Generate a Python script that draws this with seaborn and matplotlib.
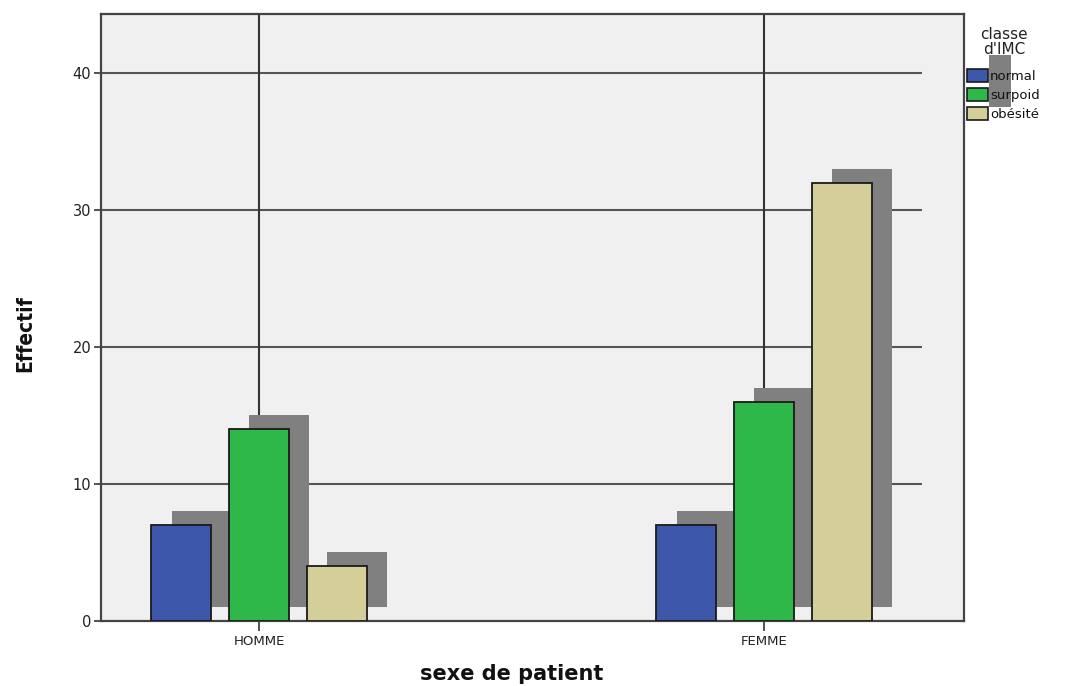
import numpy as np
import pandas as pd
import matplotlib
matplotlib.use("Agg")
import matplotlib.pyplot as plt
import seaborn as sns
from matplotlib.patches import Rectangle, Patch

# Counts per sex and BMI class
sexes = ["HOMME", "FEMME"]
classes = ["normal", "surpoid", "obésité"]
normal = [7, 7]
surpoid = [14, 16]
obesite = [4, 32]
colors = ["#3d58ab", "#2fb84a", "#d4cf98"]
yticks = [0, 10, 20, 30, 40]

df = pd.DataFrame({
    "sexe de patient": sexes * 3,
    "classe d'IMC": [c for c in classes for _ in sexes],
    "Effectif": normal + surpoid + obesite,
})

sns.set_style("white")
plt.rcParams["font.family"] = ["DejaVu Sans"]

fig = plt.figure(figsize=(10.75, 6.86), dpi=100)
ax = fig.add_axes([0.094, 0.0948, 0.8027, 0.8848])
ax.set_facecolor("#f0f0f0")

sns.barplot(
    data=df, x="sexe de patient", y="Effectif", hue="classe d'IMC",
    order=sexes, hue_order=classes, palette=colors, saturation=1,
    width=0.462, gap=0.23, edgecolor="#1a1a1a", linewidth=1.3,
    errorbar=None, legend=False, ax=ax,
)

# drop shadows: each bar shifted right and up by one unit
dx, dy = 0.04, 1.0
bars = list(ax.patches)
for p in bars:
    p.set_zorder(3)
    ax.add_patch(Rectangle((p.get_x() + dx, dy), p.get_width(), p.get_height(),
                           facecolor="#808080", edgecolor="none", zorder=2))

xmin, xmax = -0.313, 1.396
ymax = 44.3
ax.set_xlim(xmin, xmax)
ax.set_ylim(0, ymax)

# reference lines
ax.hlines(yticks[1:], xmin, 1 - xmin, color="#555555", lw=1.5, zorder=1)
ax.vlines([0, 1], 0, ymax, color="#333333", lw=1.5, zorder=1)

ax.set_yticks(yticks)
ax.set_xticks([0, 1])
ax.set_xticklabels(sexes)
for s in ax.spines.values():
    s.set_visible(True)
    s.set_color("#444444")
    s.set_linewidth(1.6)
ax.tick_params(axis="y", length=5, width=1.3, color="#444444",
               labelsize=10.5, pad=2, labelcolor="#222222", left=True)
ax.tick_params(axis="x", length=7, width=1.3, color="#444444",
               labelsize=9.5, pad=3, labelcolor="#222222", bottom=True)

ax.set_ylabel("Effectif", fontsize=15, fontweight="bold", fontstretch="condensed",
              color="#111111")
ax.yaxis.set_label_coords(-0.0765, 0.474)
ax.set_xlabel("sexe de patient", fontsize=15, fontweight="bold", color="#111111")
ax.xaxis.set_label_coords(0.476, -0.071)

# legend: title, shadow block, entries
fig.text(1004 / 1075, 1 - 27 / 686, "classe\nd'IMC", ha="center", va="top",
         multialignment="center", fontsize=11, linespacing=1.0, color="#222222")
fig.patches.append(Rectangle((989 / 1075, 1 - 107 / 686), 22 / 1075, 52 / 686,
                             transform=fig.transFigure, facecolor="#808080",
                             edgecolor="none", zorder=-1))
handles = [Patch(facecolor=c, edgecolor="#1a1a1a", linewidth=1.2) for c in colors]
leg = ax.legend(
    handles, classes, loc="upper left",
    bbox_to_anchor=(967 / 1075, 1 - 69 / 686), bbox_transform=fig.transFigure,
    frameon=False, fontsize=9.5, handlelength=1.6,
    handleheight=1.1, handletextpad=0.15, labelspacing=0.4,
    borderpad=0, borderaxespad=0,
)
for t in leg.get_texts():
    t.set_color("#111111")

fig.savefig("out.png", dpi=100, facecolor="white")
